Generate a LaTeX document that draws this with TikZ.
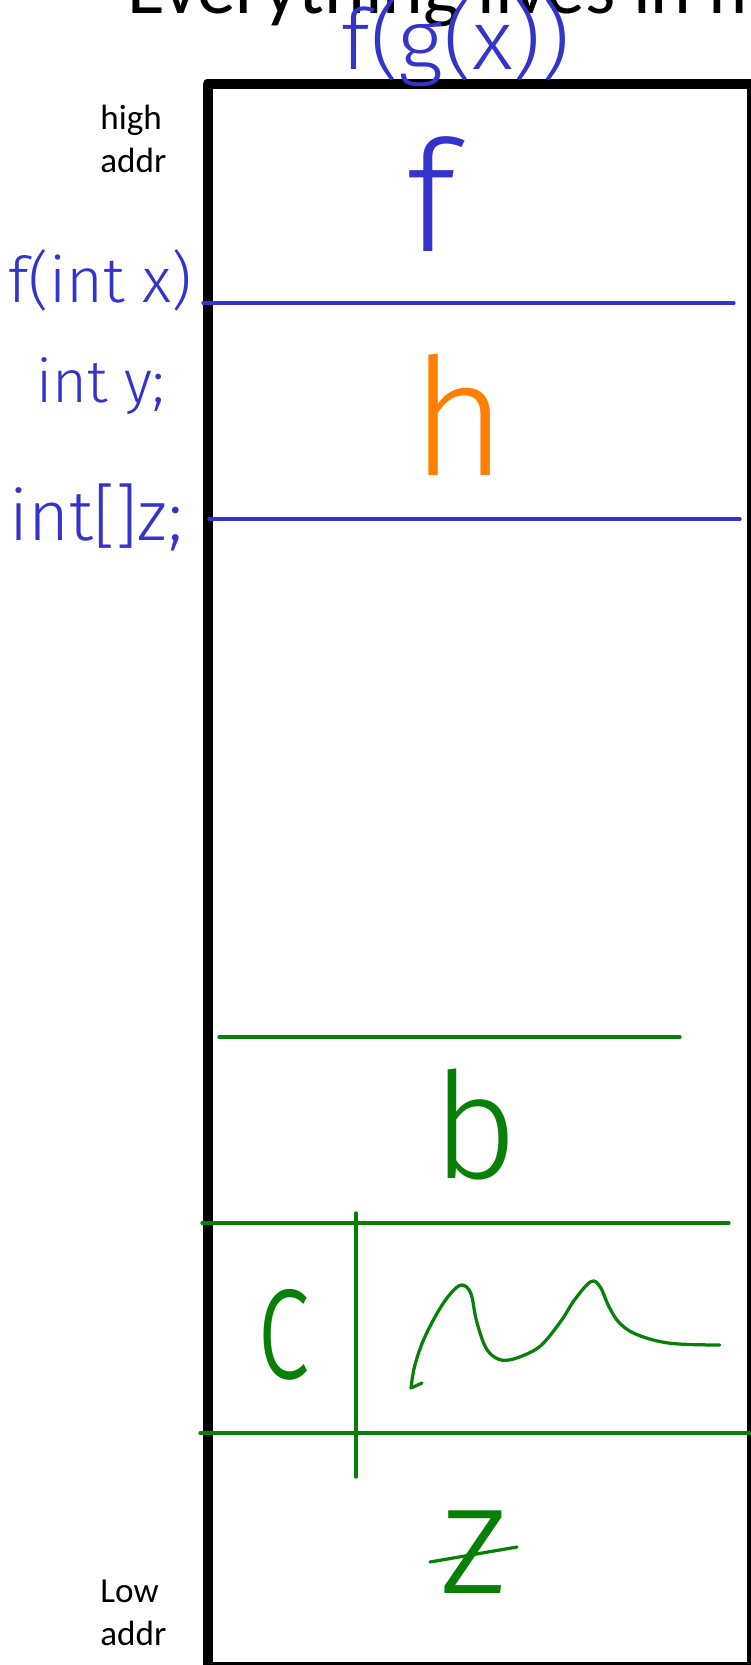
\documentclass[tikz,border=0pt]{standalone}
\usepackage{fontspec}
\setmainfont{Carlito}
\newfontfamily\inkfont{Fira Sans Light}
\definecolor{inkblue}{RGB}{52,52,204}
\definecolor{inkgreen}{RGB}{8,128,8}
\definecolor{inkorange}{RGB}{255,128,0}
\tikzset{frame/.style={line width=0.2cm,line join=round},pen/.style={line width=0.065cm,line cap=round,line join=round},ink/.style={inner sep=0pt,anchor=base,font=\inkfont\fontsize{#1}{#1}\selectfont},addr/.style={inner sep=0pt,anchor=north west,align=left,font=\fontsize{20}{24.4}\selectfont}}

\begin{document}
\begin{tikzpicture}[x=0.02cm,y=-0.02cm]
\useasboundingbox (0,0) rectangle (750,1665);
% slide title and address ends
\node[inner sep=0pt,anchor=base west,font=\fontsize{44}{44}\selectfont] (title) at (127,14) {Everything lives in memory};
\node[addr] (high) at (100,105) {high\\addr};
\node[addr] (low) at (100,1580) {Low\\addr};
% memory column
\draw[frame] (207.6,84) rectangle (752,1667);
% blue ink: the call and f's frame
\node[ink=48,text=inkblue,xscale=1.05] (call) at (456,70) {f(g(x))};
\node[ink=88,text=inkblue] (fframe) at (431,252) {f};
\node[ink=36,text=inkblue] (fsig) at (100,303) {f(int x)};
\node[ink=34,text=inkblue] (yvar) at (101,402) {int y;};
\node[ink=40,text=inkblue] (zvar) at (96,540) {int[]z;};
\draw[pen,inkblue] (203,303) -- (734,303);
\draw[pen,inkblue] (209,519) -- (740,519);
\node[ink=93,text=inkorange] (hframe) at (459,475) {h};
% green ink: lower part
\draw[pen,inkgreen] (219,1037) -- (680,1037);
\node[ink=84,text=inkgreen] (bcell) at (475,1178) {b};
\draw[pen,inkgreen] (202,1223) -- (729,1223);
\draw[pen,inkgreen] (356,1213) -- (356,1477);
\node[ink=95,text=inkgreen,xscale=0.7] (ccell) at (284,1378) {c};
\draw[pen,inkgreen] (422,1383) -- (411,1388) -- plot[smooth,tension=0.6] coordinates {(411,1388) (414.5,1366.7) (423.5,1340) (438,1311.7) (450.8,1293.3) (461.7,1285) (470.8,1293.3) (476.3,1320) (485.3,1346.7) (496,1358) (509,1360) (529,1353) (543.5,1343) (561.7,1320) (574.4,1300) (590.8,1281.7) (600,1286.7) (609,1306.7) (619.8,1323.3) (638,1335) (670.7,1343.3) (719.8,1345)};
\draw[pen,inkgreen] (200,1433) -- (752,1433);
\node[ink=90,text=inkgreen] (zcell) at (474,1593) {z};
\draw[pen,inkgreen] (430,1562) -- (517,1547);
\end{tikzpicture}
\end{document}
